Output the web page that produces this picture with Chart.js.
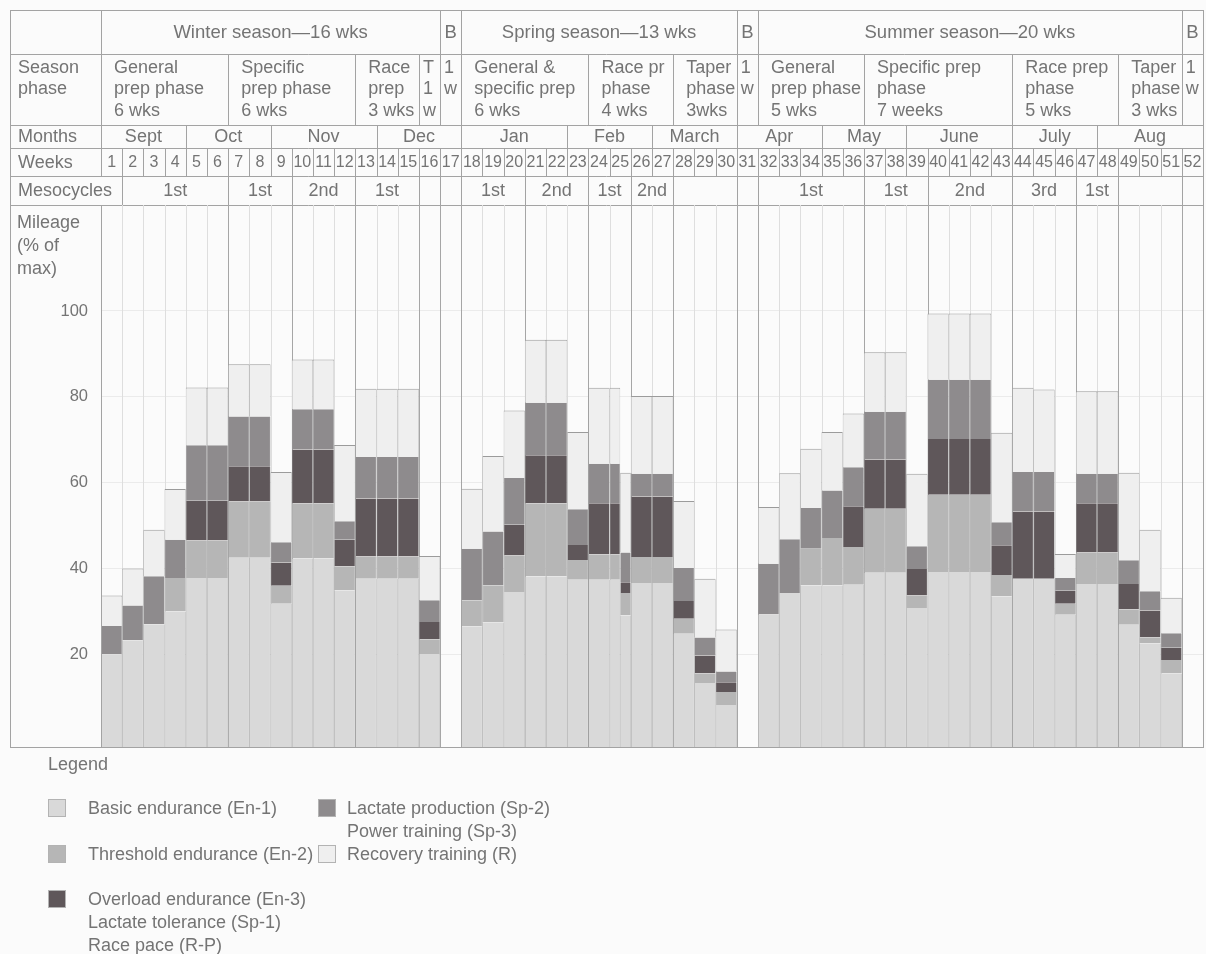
<!DOCTYPE html>
<html>
<head>
<meta charset="utf-8">
<title>Training plan - weekly mileage</title>
<script src="https://cdn.jsdelivr.net/npm/chart.js@4.4.1/dist/chart.umd.min.js"></script>
<style>
    html, body { margin: 0; padding: 0; background: #fbfbfb; }
    #wrap { position: relative; width: 1206px; height: 954px; font-family: "Liberation Sans", Arial, sans-serif; color: #747474; }
    #plan { position: absolute; left: 0; top: 0; }
    .lg { position: absolute; font-size: 18px; line-height: 23px; white-space: nowrap; }
    .sw { position: absolute; width: 18px; height: 18px; border: 1px solid #b3b3b3; box-sizing: border-box; }
</style>
</head>
<body>
<div id="wrap">
    <canvas id="plan" width="1206" height="954"></canvas>
    <div id="legend"></div>
</div>
<script>
// ===== Data (% of max mileage per week) =====
const weekLabels = Array.from({ length: 52 }, (_, i) => String(i + 1));
const yTicks = [20, 40, 60, 80, 100];

// stacked segments, bottom to top (null = no such segment that week)
const basic = [20, 23.3, 27, 30, 37.8, 37.8, 42.5, 42.5, 31.8, 42.3,
    42.3, 34.9, 37.6, 37.6, 37.6, 20.1, null, 26.5, 27.4, 34.5,
    38.2, 38.2, 37.4, 37.4, 37.4, 36.6, 36.6, 24.8, 13.3, 8.2,
    null, 29.3, 34.3, 36.1, 36.1, 36.2, 39, 39, 30.8, 39.2,
    39.2, 39.2, 33.5, 37.6, 37.6, 29.2, 36.4, 36.4, 26.9, 22.5,
    15.5, null];
const threshold = [null, null, null, 7.8, 8.7, 8.7, 13.1, 13.1, 4.2, 12.9,
    12.9, 5.6, 5.2, 5.2, 5.2, 3.4, null, 6.1, 8.7, 8.5,
    17, 17, 4.6, 5.9, 5.9, 6.1, 6.1, 3.5, 2.3, 3,
    null, null, null, 8.5, 11, 8.8, 14.9, 14.9, 2.9, 18,
    18, 18, 5, null, null, 2.6, 7.3, 7.3, 3.6, 1.5,
    3.2, null];
const overload = [null, null, null, null, 9.3, 9.3, 8.2, 8.2, 5.4, 12.5,
    12.5, 6.2, 13.5, 13.5, 13.5, 4, null, null, null, 7.2,
    11.2, 11.2, 3.5, 11.9, 11.9, 14.1, 14.1, 4.1, 4.1, 2.3,
    null, null, null, null, null, 9.5, 11.5, 11.5, 6.2, 13,
    13, 13, 6.9, 15.7, 15.7, 3, 11.5, 11.5, 5.9, 6.2,
    2.8, null];
const lactate = [6.6, 8.1, 11.2, 8.9, 12.9, 12.9, 11.6, 11.6, 4.7, 9.4,
    9.4, 4.3, 9.7, 9.7, 9.7, 5.1, null, 12, 12.5, 10.9,
    12.2, 12.2, 8.3, 9.2, 9.2, 5.3, 5.3, 7.7, 4.2, 2.5,
    null, 11.8, 12.5, 9.5, 11.1, 9.1, 11.1, 11.1, 5.3, 13.8,
    13.8, 13.8, 5.4, 9.2, 9.2, 3, 6.9, 6.9, 5.5, 4.5,
    3.4, null];
const recovery = [7.1, 8.6, 10.8, 11.8, 13.5, 13.5, 12.2, 12.2, 16.4, 11.6,
    11.6, 17.8, 15.9, 15.9, 15.9, 10.3, null, 14, 17.6, 15.7,
    14.7, 14.7, 18, 17.7, 17.7, 18.1, 18.1, 15.6, 13.7, 9.8,
    null, 13.2, 15.4, 13.8, 13.6, 12.5, 13.9, 13.9, 16.9, 15.4,
    15.4, 15.4, 20.8, 19.6, 19.2, 5.6, 19.2, 19.2, 20.4, 14.3,
    8.3, null];

// week 25 is drawn split: left half continues week 24, right half is a short bar
const tailWeek = 25;
const tailValues = [29.1, 5.2, 2.5, 6.9, 18.6];

const seriesNames = ["Basic endurance (En-1)", "Threshold endurance (En-2)", "Overload endurance (En-3)",
    "Lactate production (Sp-2)", "Recovery training (R)"];
const seriesColors = ["#d9d9d9", "#b6b6b6", "#5f575a", "#8e8b8d", "#efefef"];

// header rows: [first week, last week, text]
const seasonCells = [[1, 16, "Winter season\u201416 wks"], [17, 17, "B"], [18, 30, "Spring season\u201413 wks"],
    [31, 31, "B"], [32, 51, "Summer season\u201420 wks"], [52, 52, "B"]];
const phaseCells = [[1, 6, ["General", "prep phase", "6 wks"]], [7, 12, ["Specific", "prep phase", "6 wks"]],
    [13, 15, ["Race", "prep", "3 wks"]], [16, 16, ["T", "1", "w"]], [17, 17, ["1", "w"]],
    [18, 23, ["General &", "specific prep", "6 wks"]], [24, 27, ["Race pr", "phase", "4 wks"]],
    [28, 30, ["Taper", "phase", "3wks"]], [31, 31, ["1", "w"]],
    [32, 36, ["General", "prep phase", "5 wks"]], [37, 43, ["Specific prep", "phase", "7 weeks"]],
    [44, 48, ["Race prep", "phase", "5 wks"]], [49, 51, ["Taper", "phase", "3 wks"]], [52, 52, ["1", "w"]]];
const monthCells = [[1, 4, "Sept"], [5, 8, "Oct"], [9, 13, "Nov"], [14, 17, "Dec"], [18, 22, "Jan"],
    [23, 26, "Feb"], [27, 30, "March"], [31, 34, "Apr"], [35, 38, "May"], [39, 43, "June"],
    [44, 47, "July"], [48, 52, "Aug"]];
const mesoCells = [[2, 6, "1st"], [7, 9, "1st"], [10, 12, "2nd"], [13, 15, "1st"], [16, 16, ""], [17, 17, ""],
    [18, 20, "1st"], [21, 23, "2nd"], [24, 25, "1st"], [26, 27, "2nd"], [28, 30, ""], [31, 31, ""],
    [32, 36, "1st"], [37, 39, "1st"], [40, 43, "2nd"], [44, 46, "3rd"], [47, 48, "1st"], [49, 51, ""], [52, 52, ""]];

// ===== Look =====
const FONT = '"Liberation Sans", Arial, sans-serif';
const TEXT = "#747474";
const RULE = "#a3a3a3";
const rowY = [10, 54, 125, 148, 176, 205];   // header row edges
const frameLeft = 10;

// ===== Header, frame and week lines =====
const planPlugin = {
    id: "plan",
    beforeDraw(chart) {
        const { ctx, chartArea: a, scales: { x } } = chart;
        const step = x.getPixelForValue(1) - x.getPixelForValue(0);
        const edge = (n) => x.getPixelForValue(0) + (n - 0.5) * step;
        const px = (v) => Math.round(v) + 0.5;

        ctx.save();
        ctx.fillStyle = "#fbfbfb";
        ctx.fillRect(0, 0, chart.width, chart.height);

        const line = (x0, y0, x1, y1, color) => {
            ctx.strokeStyle = color;
            ctx.lineWidth = 1;
            ctx.beginPath();
            ctx.moveTo(x0, y0);
            ctx.lineTo(x1, y1);
            ctx.stroke();
        };

        // horizontal rules
        rowY.forEach((y) => line(frameLeft, px(y), a.right, px(y), RULE));
        // label column
        line(px(a.left), rowY[0], px(a.left), rowY[4], RULE);

        ctx.fillStyle = TEXT;
        ctx.textBaseline = "middle";
        ctx.font = "18.5px " + FONT;

        const drawCells = (cells, top, bottom, fn) => {
            cells.forEach(([from, to, text]) => {
                if (from > 1) line(px(edge(from - 1)), top, px(edge(from - 1)), bottom, RULE);
                fn(edge(from - 1), edge(to), text, to - from + 1);
            });
        };

        ctx.textAlign = "center";
        drawCells(seasonCells, rowY[0], rowY[1], (l, r, t) => ctx.fillText(t, (l + r) / 2, 33));

        ctx.font = "18px " + FONT;
        ctx.textAlign = "left";
        drawCells(phaseCells, rowY[1], rowY[2], (l, r, t, span) => {
            t.forEach((s, i) => ctx.fillText(s, l + (span > 1 ? 13 : 4), 68 + i * 21.5));
        });

        ctx.textAlign = "center";
        drawCells(monthCells, rowY[2], rowY[3], (l, r, t) => ctx.fillText(t, (l + r) / 2, 137));

        ctx.font = "16px " + FONT;
        weekLabels.forEach((w, i) => {
            if (i > 0) line(px(edge(i)), rowY[3], px(edge(i)), rowY[4], RULE);
            ctx.fillText(w, x.getPixelForValue(i), 163);
        });

        ctx.font = "18px " + FONT;
        line(px(edge(1)), rowY[4], px(edge(1)), rowY[5], RULE);
        drawCells(mesoCells, rowY[4], rowY[5], (l, r, t) => ctx.fillText(t, (l + r) / 2, 191));

        // left column labels
        ctx.textAlign = "left";
        ctx.fillText("Season", 18, 68);
        ctx.fillText("phase", 18, 89.5);
        ctx.fillText("Months", 18, 137);
        ctx.fillText("Weeks", 18, 163);
        ctx.fillText("Mesocycles", 18, 191);
        ["Mileage", "(% of", "max)"].forEach((s, i) => ctx.fillText(s, 17, 223 + i * 23));
        ctx.restore();
    },
    beforeDatasetsDraw(chart) {
        const { ctx, chartArea: a, scales: { x } } = chart;
        const step = x.getPixelForValue(1) - x.getPixelForValue(0);
        const edge = (n) => x.getPixelForValue(0) + (n - 0.5) * step;
        const mesoEdges = mesoCells.map((c) => c[0] - 1).filter((n) => n > 1);
        ctx.save();
        ctx.lineWidth = 1;
        for (let n = 1; n < 52; n++) {
            const xx = Math.round(edge(n)) + 0.5;
            ctx.strokeStyle = mesoEdges.includes(n) ? "#a6a6a6" : "#dedede";
            ctx.beginPath();
            ctx.moveTo(xx, a.top);
            ctx.lineTo(xx, a.bottom);
            ctx.stroke();
        }
        ctx.restore();
    },
    afterDraw(chart) {
        const { ctx, chartArea: a } = chart;
        ctx.save();
        ctx.strokeStyle = RULE;
        ctx.lineWidth = 1;
        ctx.strokeRect(frameLeft + 0.5, rowY[0] + 0.5, Math.round(a.right) - frameLeft, Math.round(a.bottom) - rowY[0]);
        ctx.beginPath();
        ctx.moveTo(Math.round(a.left) + 0.5, a.top);
        ctx.lineTo(Math.round(a.left) + 0.5, a.bottom);
        ctx.stroke();
        ctx.restore();
    }
};

// ===== Datasets =====
const series = [basic, threshold, overload, lactate, recovery];

function barStyle(k) {
    return {
        backgroundColor: seriesColors[k],
        borderColor: "#9b9b9b",
        borderWidth: { left: 0.6, right: 0.6, top: k === 4 ? 1 : 0, bottom: 0 },
        base: k === 0 ? -1.6 : undefined
    };
}

const datasets = [];
series.forEach((data, k) => {
    datasets.push({ label: seriesNames[k], data: data, stack: "main", ...barStyle(k) });
});
series.forEach((data, k) => {
    const tail = weekLabels.map((w, i) => (i === tailWeek - 1 ? tailValues[k] : null));
    datasets.push({ label: seriesNames[k] + " (wk " + tailWeek + ")", data: tail, stack: "tail", ...barStyle(k) });
});

new Chart(document.getElementById("plan"), {
    type: "bar",
    data: { labels: weekLabels, datasets: datasets },
    options: {
        responsive: false,
        animation: false,
        events: [],
        layout: { padding: { left: frameLeft, right: 3, top: rowY[5], bottom: 207 } },
        datasets: { bar: { barPercentage: 1, categoryPercentage: 1, skipNull: true, inflateAmount: 0 } },
        plugins: { legend: { display: false }, tooltip: { enabled: false } },
        scales: {
            x: { display: false },
            y: {
                stacked: true,
                min: -1.6,
                max: 124.7,
                afterFit: (scale) => { scale.width = 91; },
                afterBuildTicks: (scale) => { scale.ticks = yTicks.map((v) => ({ value: v })); },
                ticks: { color: TEXT, padding: 13, font: { family: FONT, size: 16.5 } },
                grid: { color: "#ebebeb", drawTicks: false },
                border: { display: false }
            }
        }
    },
    plugins: [planPlugin]
});

// ===== Legend =====
const legendItems = [
    { k: 0, left: 48, top: 799, gap: 40, lines: ["Basic endurance (En-1)"] },
    { k: 3, left: 318, top: 799, gap: 29, lines: ["Lactate production (Sp-2)", "Power training (Sp-3)"] },
    { k: 1, left: 48, top: 845, gap: 40, lines: ["Threshold endurance (En-2)"] },
    { k: 4, left: 318, top: 845, gap: 29, lines: ["Recovery training (R)"] },
    { k: 2, left: 48, top: 890, gap: 40, lines: ["Overload endurance (En-3)", "Lactate tolerance (Sp-1)", "Race pace (R-P)"] }
];
const legend = document.getElementById("legend");
let html = '<div class="lg" style="left:48px;top:753px">Legend</div>';
legendItems.forEach((it) => {
    html += `<div class="sw" style="left:${it.left}px;top:${it.top}px;background:${seriesColors[it.k]}"></div>`;
    html += `<div class="lg" style="left:${it.left + it.gap}px;top:${it.top - 2.5}px">${it.lines.join("<br>")}</div>`;
});
legend.innerHTML = html;
</script>
</body>
</html>
